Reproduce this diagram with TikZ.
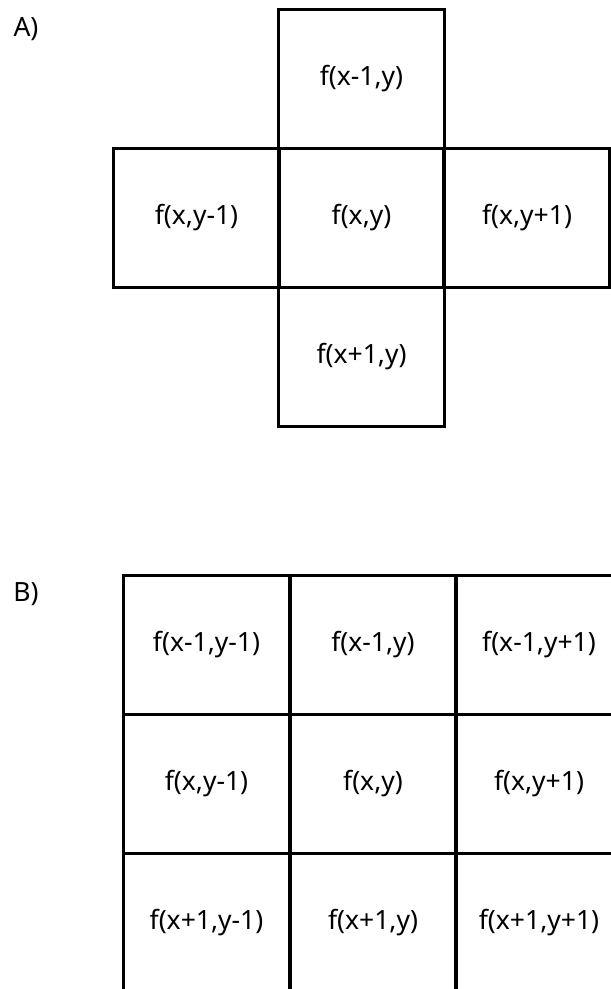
\documentclass[tikz,border=0pt]{standalone}
\usepackage{fontspec}
\setmainfont{Noto Sans}
\begin{document}
\begin{tikzpicture}[x=1pt,y=-1pt,
  cellbox/.style={draw=black,line width=3.4pt,minimum width=166pt,minimum height=139pt,
    inner sep=0pt,outer sep=0pt,font=\fontsize{26.5}{30}\selectfont},
  tag/.style={font=\fontsize{26.5}{30}\selectfont,inner sep=0pt}]
\useasboundingbox (0,0) rectangle (611,989);
\clip (0,0) rectangle (611,989);
% panel A: the four neighbours around the centre cell
\node[tag] (la) at (26,29) {A)};
\node[cellbox] (ac) at (361.5,218) {f(x,y)};
\node[cellbox] (at) at (361.5,79) {f(x-1,y)};
\node[cellbox] (ab) at (361.5,357) {f(x+1,y)};
\node[cellbox] (al) at (196.5,218) {f(x,y-1)};
\node[cellbox] (ar) at (527,218) {f(x,y+1)};
% panel B: the full 3x3 neighbourhood
\node[tag] (lb) at (26,594) {B)};
\node[cellbox] (b11) at (206.5,645) {f(x-1,y-1)};
\node[cellbox] (b12) at (373,645) {f(x-1,y)};
\node[cellbox] (b13) at (539,645) {f(x-1,y+1)};
\node[cellbox] (b21) at (206.5,784) {f(x,y-1)};
\node[cellbox] (b22) at (373,784) {f(x,y)};
\node[cellbox] (b23) at (539,784) {f(x,y+1)};
\node[cellbox] (b31) at (206.5,923) {f(x+1,y-1)};
\node[cellbox] (b32) at (373,923) {f(x+1,y)};
\node[cellbox] (b33) at (539,923) {f(x+1,y+1)};
\end{tikzpicture}
\end{document}
